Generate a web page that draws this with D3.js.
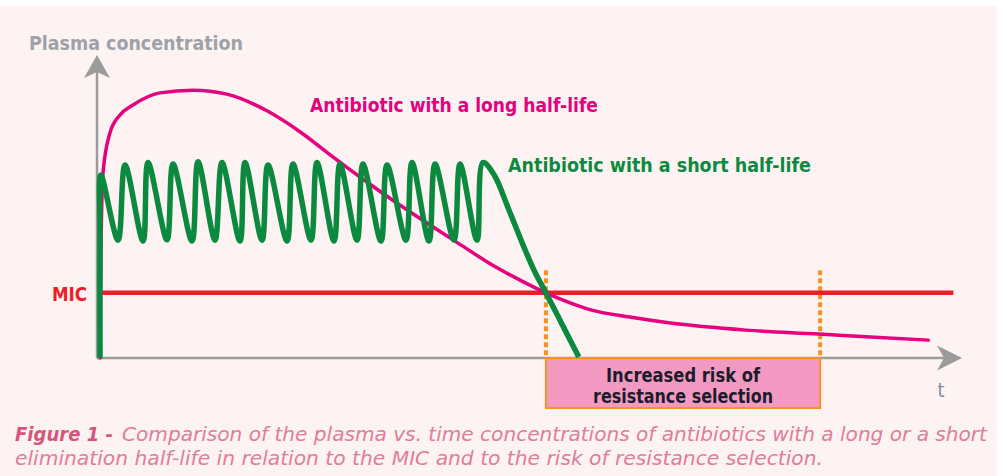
<!DOCTYPE html>
<html>
<head>
<meta charset="utf-8">
<script src="https://cdnjs.cloudflare.com/ajax/libs/d3/7.8.5/d3.min.js"></script>
<style>
  html, body { margin: 0; padding: 0; background: #ffffff; }
  svg { display: block; }
  text { font-family: "DejaVu Sans Condensed", "DejaVu Sans", sans-serif; }
</style>
</head>
<body>
<div id="chart"></div>
<script>
// 时间（任意单位）与浓度（任意单位）
// long half-life antibiotic
var longT = [0.35, 0.46, 0.69, 1.5, 2.66, 4.16, 7.28, 11.1, 15.0, 19.7, 23.5, 27.3, 31.2, 35.0, 38.5, 41.7, 46.1, 48.9, 51.9, 54.7, 57.2, 61.6, 66.1, 75.0, 83.5, 89.4, 96.1];
var longC = [0, 35.6, 61, 74.3, 80.2, 83.5, 87.5, 88.4, 87.1, 81.5, 74.6, 66.3, 58.1, 50.5, 43.9, 38.0, 30.0, 25.7, 21.5, 18.2, 15.8, 13.5, 11.6, 9.2, 7.9, 6.9, 5.9];

// short half-life antibiotic (repeated doses)
var shortT = [0.35, 0.35, 0.45,
  2.43, 3.24, 5.32, 5.90, 8.09, 8.79, 10.98, 11.68, 13.64, 14.45, 16.53, 17.11,
  19.08, 19.77, 21.97, 22.66, 24.74, 25.43, 27.40, 28.09, 30.06, 30.75, 32.83, 33.53,
  35.72, 36.42, 38.38, 39.08, 41.27, 41.97, 43.93, 44.62,
  45.9, 47.6, 49.3, 50.6, 51.9, 53.7, 55.7];
var shortC = [0, 42, 60.4,
  38.9, 63.7, 38.6, 64.5, 39, 64, 38.6, 64.8, 38.9, 64.5, 38.6, 64.5,
  38.9, 63.7, 38.6, 64, 38.9, 64.5, 38.6, 64, 38.9, 64, 38.6, 63.7,
  38.9, 64.5, 38.6, 64, 38.9, 64, 38.9, 64.5,
  60.5, 49, 37, 28.5, 21.5, 11.5, 0.3];

var mic = 21.5;
var riskWindow = [51.9, 83.6];

var labels = {
  yAxis: "Plasma concentration",
  xAxis: "t",
  mic: "MIC",
  longLine: "Antibiotic with a long half-life",
  shortLine: "Antibiotic with a short half-life",
  risk: ["Increased risk of", "resistance selection"],
  figure: "Figure 1 -",
  caption1: "Comparison of the plasma vs. time concentrations of antibiotics with a long or a short",
  caption2: "elimination half-life in relation to the MIC and to the risk of resistance selection."
};

var width = 1007, height = 476;

var svg = d3.select("#chart")
  .append("svg")
  .attr("width", width)
  .attr("height", height);

// 背景
svg.append("rect")
  .attr("x", 0).attr("y", 6)
  .attr("width", 997).attr("height", height - 6)
  .attr("fill", "#fdf3f3");

var x = d3.scaleLinear().domain([0, 100]).range([97, 962]);
var y = d3.scaleLinear().domain([0, 100]).range([358, 55]);

var gAxis = svg.append("g");
var gMarks = svg.append("g");
var gText = svg.append("g");

// 风险区间框
gMarks.append("rect")
  .attr("x", x(riskWindow[0]))
  .attr("y", y(0))
  .attr("width", x(riskWindow[1]) - x(riskWindow[0]))
  .attr("height", 50)
  .attr("fill", "#f49ac2")
  .attr("stroke", "#f7931e")
  .attr("stroke-width", 2);

// 虚线
gMarks.selectAll("line.window")
  .data(riskWindow)
  .enter()
  .append("line")
  .attr("class", "window")
  .attr("x1", function(d) { return x(d); })
  .attr("x2", function(d) { return x(d); })
  .attr("y1", y(29))
  .attr("y2", y(0))
  .attr("stroke", "#f7931e")
  .attr("stroke-width", 4)
  .attr("stroke-dasharray", "5,3");

// 坐标轴
var xAxis = d3.axisBottom(x).tickValues([]).tickSizeOuter(0);
var yAxis = d3.axisLeft(y).tickValues([]).tickSizeOuter(0);
gAxis.append("g")
  .attr("transform", "translate(0," + y(0) + ")")
  .call(xAxis)
  .call(function(g) {
    g.select(".domain").attr("stroke", "#9b9b9b").attr("stroke-width", 2.5)
      .attr("d", "M" + x(0) + ",0H" + (x(100) - 14));
  });
gAxis.append("g")
  .attr("transform", "translate(" + x(0) + ",0)")
  .call(yAxis)
  .call(function(g) {
    g.select(".domain").attr("stroke", "#9b9b9b").attr("stroke-width", 2.5)
      .attr("d", "M0," + y(0) + "V" + (y(100) + 14));
  });

// 箭头
var xe = x(100), ye = y(0);
gAxis.append("path")
  .attr("d", "M" + xe + "," + ye + "L" + (xe - 25) + "," + (ye - 12.5) + "L" + (xe - 18) + "," + ye + "L" + (xe - 25) + "," + (ye + 12.5) + "Z")
  .attr("fill", "#9b9b9b");
var xa = x(0), ya = y(100);
gAxis.append("path")
  .attr("d", "M" + xa + "," + ya + "L" + (xa + 13) + "," + (ya + 23) + "L" + xa + "," + (ya + 17) + "L" + (xa - 13) + "," + (ya + 23) + "Z")
  .attr("fill", "#9b9b9b");

// MIC
gMarks.append("line")
  .attr("x1", x(0.35))
  .attr("x2", x(99))
  .attr("y1", y(mic))
  .attr("y2", y(mic))
  .attr("stroke", "#ee1c25")
  .attr("stroke-width", 4.5);

var longLine = d3.line()
  .x(function(d) { return x(d[0]); })
  .y(function(d) { return y(d[1]); })
  .curve(d3.curveMonotoneX);

var shortLine = d3.line()
  .x(function(d) { return x(d[0]); })
  .y(function(d) { return y(d[1]); })
  .curve(d3.curveCatmullRom.alpha(0.5));

var longData = d3.zip(longT, longC);
var shortData = d3.zip(shortT, shortC);

gMarks.append("path")
  .datum(longData)
  .attr("d", longLine)
  .attr("fill", "none")
  .attr("stroke", "#e6007e")
  .attr("stroke-width", 3.5)
  .attr("stroke-linecap", "round");

gMarks.append("path")
  .datum(shortData)
  .attr("d", shortLine)
  .attr("fill", "none")
  .attr("stroke", "#0b8a3f")
  .attr("stroke-width", 5.5)
  .attr("stroke-linejoin", "round");

// 文本
function addText(str, tx, ty, opts) {
  var t = gText.append("text")
    .attr("x", tx)
    .attr("y", ty)
    .attr("font-size", opts.size || "19px")
    .attr("font-weight", opts.weight || "bold")
    .attr("font-style", opts.style || "normal")
    .attr("fill", opts.color)
    .attr("text-anchor", opts.anchor || "start")
    .text(str);
  if (opts.len) {
    t.attr("textLength", opts.len).attr("lengthAdjust", "spacingAndGlyphs");
  }
  return t;
}

addText(labels.yAxis, 29, 50, { color: "#9ea2a8", len: 214 });
addText(labels.xAxis, 941, 397, { color: "#7f8ea3", weight: "normal", size: "20px", anchor: "middle" });
addText(labels.mic, 52, y(mic) + 8, { color: "#ee1c25", len: 35 });
addText(labels.longLine, 310, 112, { color: "#e6007e", len: 288 });
addText(labels.shortLine, 508, 172, { color: "#0b8a3f", len: 303 });

var cx = (x(riskWindow[0]) + x(riskWindow[1])) / 2;
addText(labels.risk[0], cx, 382, { color: "#1c1c2a", anchor: "middle", size: "19px", len: 154 });
addText(labels.risk[1], cx, 403, { color: "#1c1c2a", anchor: "middle", size: "19px", len: 180 });

addText(labels.figure, 15, 441, { color: "#d9547a", style: "italic", size: "20px", len: 98 });
addText(labels.caption1, 122, 441, { color: "#e27c98", style: "italic", weight: "normal", size: "20px", len: 865 });
addText(labels.caption2, 15, 465, { color: "#e27c98", style: "italic", weight: "normal", size: "20px", len: 808 });
</script>
</body>
</html>
